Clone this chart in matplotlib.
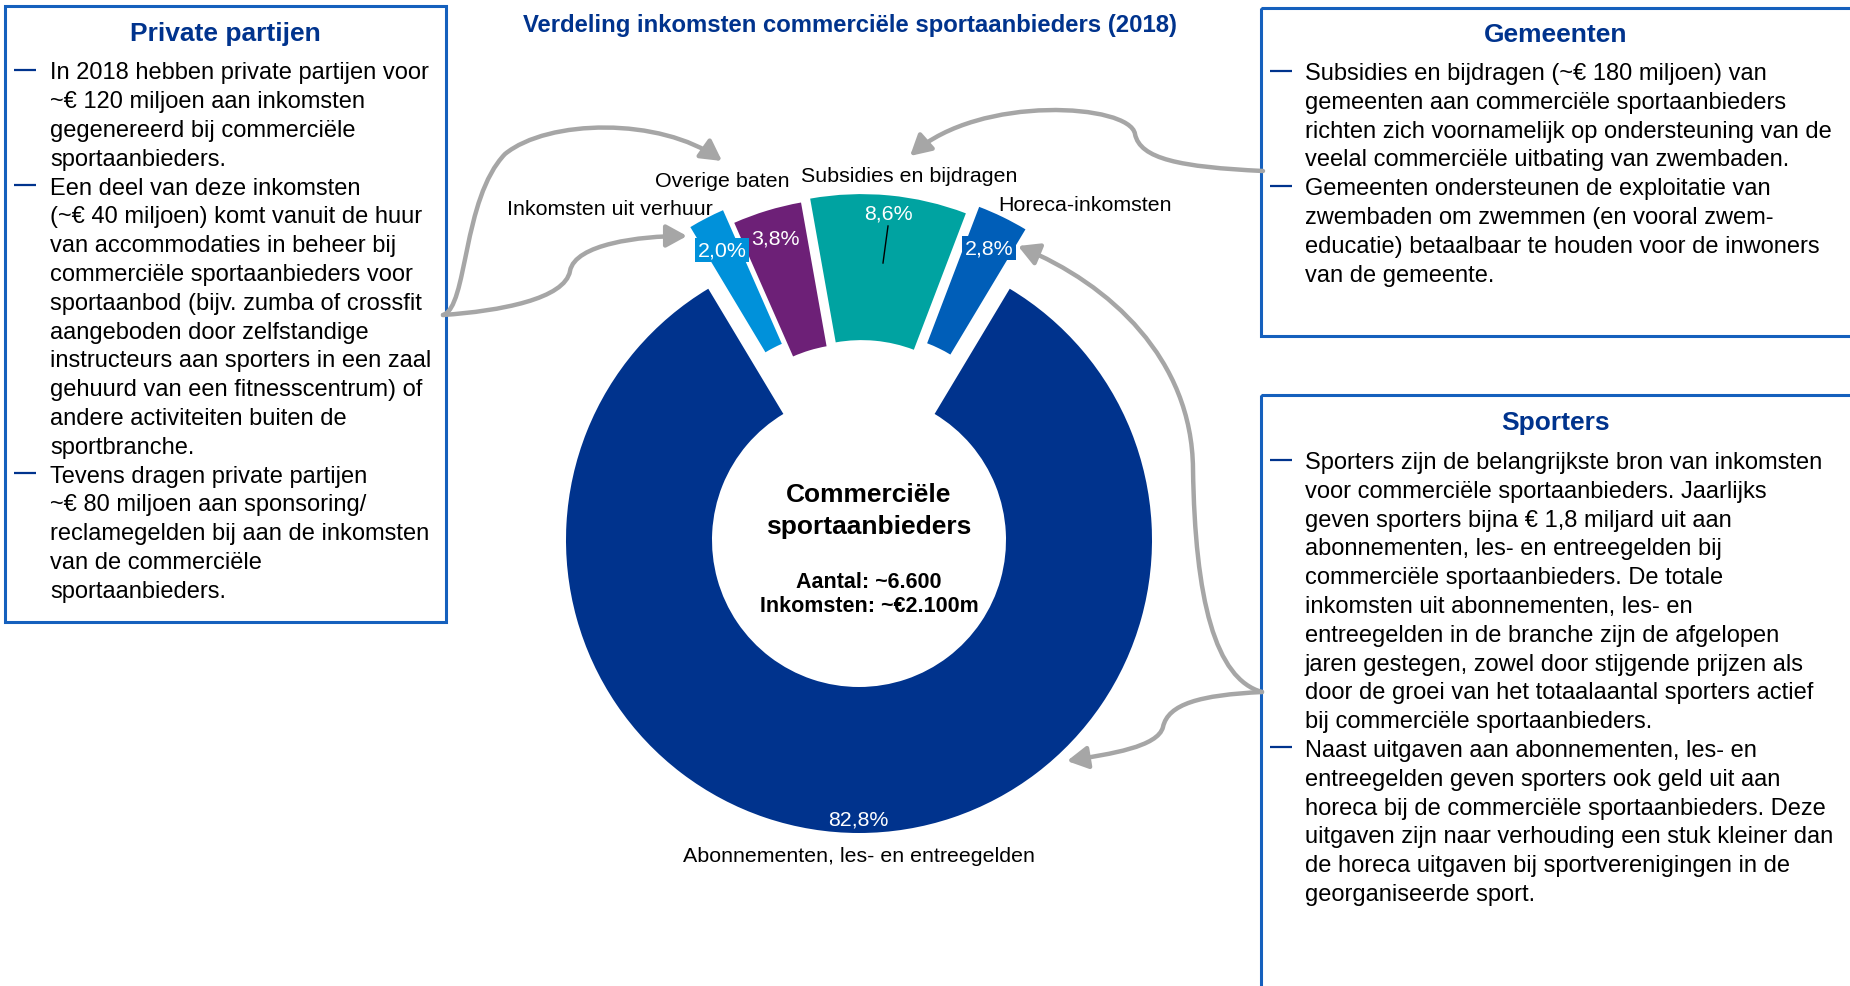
import numpy as np
import matplotlib
matplotlib.use("Agg")
import matplotlib.pyplot as plt
from matplotlib.patches import Rectangle, FancyArrowPatch
from matplotlib.path import Path

plt.rcParams['font.family'] = ['Liberation Sans', 'DejaVu Sans']

# data
categorieen = ['Abonnementen, les- en entreegelden', 'Inkomsten uit verhuur',
               'Overige baten', 'Subsidies en bijdragen', 'Horeca-inkomsten']
aandeel = [82.8, 2.0, 3.8, 8.6, 2.8]
kleuren = ['#00338D', '#0091DA', '#6D2077', '#00A3A1', '#005EB8']

titel = 'Verdeling inkomsten commerciële sportaanbieders (2018)'
midden_titel = ['Commerciële', 'sportaanbieders']
midden_info = ['Aantal: ~6.600', 'Inkomsten: ~€2.100m']

private_titel = 'Private partijen'
private_tekst = [
    ['In 2018 hebben private partijen voor',
     '~€ 120 miljoen aan inkomsten',
     'gegenereerd bij commerciële',
     'sportaanbieders.'],
    ['Een deel van deze inkomsten',
     '(~€ 40 miljoen) komt vanuit de huur',
     'van accommodaties in beheer bij',
     'commerciële sportaanbieders voor',
     'sportaanbod (bijv. zumba of crossfit',
     'aangeboden door zelfstandige',
     'instructeurs aan sporters in een zaal',
     'gehuurd van een fitnesscentrum) of',
     'andere activiteiten buiten de',
     'sportbranche.'],
    ['Tevens dragen private partijen',
     '~€ 80 miljoen aan sponsoring/',
     'reclamegelden bij aan de inkomsten',
     'van de commerciële',
     'sportaanbieders.'],
]

gemeenten_titel = 'Gemeenten'
gemeenten_tekst = [
    ['Subsidies en bijdragen (~€ 180 miljoen) van',
     'gemeenten aan commerciële sportaanbieders',
     'richten zich voornamelijk op ondersteuning van de',
     'veelal commerciële uitbating van zwembaden.'],
    ['Gemeenten ondersteunen de exploitatie van',
     'zwembaden om zwemmen (en vooral zwem-',
     'educatie) betaalbaar te houden voor de inwoners',
     'van de gemeente.'],
]

sporters_titel = 'Sporters'
sporters_tekst = [
    ['Sporters zijn de belangrijkste bron van inkomsten',
     'voor commerciële sportaanbieders. Jaarlijks',
     'geven sporters bijna € 1,8 miljard uit aan',
     'abonnementen, les- en entreegelden bij',
     'commerciële sportaanbieders. De totale',
     'inkomsten uit abonnementen, les- en',
     'entreegelden in de branche zijn de afgelopen',
     'jaren gestegen, zowel door stijgende prijzen als',
     'door de groei van het totaalaantal sporters actief',
     'bij commerciële sportaanbieders.'],
    ['Naast uitgaven aan abonnementen, les- en',
     'entreegelden geven sporters ook geld uit aan',
     'horeca bij de commerciële sportaanbieders. Deze',
     'uitgaven zijn naar verhouding een stuk kleiner dan',
     'de horeca uitgaven bij sportverenigingen in de',
     'georganiseerde sport.'],
]

# layout (pixels, y naar beneden)
W, H = 1850, 987
donker = '#00338D'
rand = '#1560BD'
grijs = '#A6A6A6'
midden = (859, 514)
straal, ringbreedte = 293, 146
uitsteek = [27, 39, 23, 26, 36]
label_pos = [(859, 854), (610, 207), (722, 179), (909, 174), (1085, 203)]
pct_pos = [(858, 818), (722, 249), (775, 237), (888, 212), (989, 247)]
pct_box = [False, True, False, False, True]

fig = plt.figure(figsize=(W / 100, H / 100), dpi=100)
ax = fig.add_axes([0, 0, 1, 1])

# y-as omgekeerd: hoeken gespiegeld, dus tegen de klok in
start = 90 - 360 * (100 - aandeel[0]) / 200
ax.pie(aandeel, colors=kleuren, startangle=-start, counterclock=True,
       center=midden, radius=straal, explode=uitsteek,
       wedgeprops=dict(width=ringbreedte, linewidth=0))
ax.set_xlim(0, W)
ax.set_ylim(H, 0)
ax.set_aspect('auto')
ax.axis('off')


def regel(x, yc, s, size, **kw):
    # yc = midden van de hoofdletters
    ax.text(x, yc + 0.358 * size * 100 / 72, s, fontsize=size, va='baseline', **kw)


# titel
regel(850, 23, titel, 17.2, ha='center', color=donker, fontweight='bold')

# labels bij de ring
for naam, (x, y) in zip(categorieen, label_pos):
    regel(x, y, naam, 15.4, ha='center', color='black')
for v, (x, y), box, kl in zip(aandeel, pct_pos, pct_box, kleuren):
    s = f'{v:.1f}%'.replace('.', ',')
    kw = {}
    if box:
        kw['bbox'] = dict(boxstyle='square,pad=0.12', fc=kl, ec='none')
    regel(x, y, s, 15.4, ha='center', color='white', **kw)
ax.plot([888, 883], [227, 264], color='black', lw=1)

# tekst in het midden
regel(869, 493, midden_titel[0], 19, ha='center', fontweight='bold')
regel(869, 525, midden_titel[1], 19, ha='center', fontweight='bold')
regel(869, 580, midden_info[0], 15.5, ha='center', fontweight='bold')
regel(869, 604, midden_info[1], 15.5, ha='center', fontweight='bold')


def kader(x0, y0, x1, y1, kop, blokken, y_kop, y_eerste, x_streep, x_tekst):
    ax.add_patch(Rectangle((x0, y0), x1 - x0, y1 - y0, fill=False, ec=rand, lw=2.2))
    regel((x0 + min(x1, W)) / 2, y_kop, kop, 19, ha='center', color=donker, fontweight='bold')
    y = y_eerste
    for blok in blokken:
        ax.plot([x_streep, x_streep + 22], [y, y], color=donker, lw=1.6, solid_capstyle='butt')
        for s in blok:
            regel(x_tekst, y, s, 17, color='black')
            y += 28.8


kader(5, 7, 446, 623, private_titel, private_tekst, 32, 71, 14, 50)
kader(1261, 9, 1900, 337, gemeenten_titel, gemeenten_tekst, 33, 71.5, 1270, 1305)
kader(1261, 396, 1900, 1100, sporters_titel, sporters_tekst, 421, 460.5, 1270, 1305)

# pijlen (twee kubische bezier-stukken elk)
C = Path.CURVE4
pijlen = [
    [(443, 316), (468, 308), (462, 200), (505, 155), (548, 120), (660, 118), (722, 162)],
    [(443, 316), (500, 312), (565, 300), (570, 272), (575, 245), (640, 237), (687, 237)],
    [(1263, 172), (1180, 168), (1140, 160), (1135, 135), (1130, 105), (980, 95), (910, 157)],
    [(1262, 693), (1215, 680), (1195, 600), (1193, 470), (1192, 360), (1110, 285), (1018, 247)],
    [(1262, 693), (1200, 696), (1168, 705), (1163, 728), (1158, 748), (1110, 755), (1067, 762)],
]
for p in pijlen:
    pad = Path(p, [Path.MOVETO] + [C] * 6)
    ax.add_patch(FancyArrowPatch(path=pad, arrowstyle='-|>,head_length=0.4,head_width=0.22',
                                 mutation_scale=31, color=grijs, lw=3.2, joinstyle='round',
                                 capstyle='round'))

fig.savefig('out.png', dpi=100)
